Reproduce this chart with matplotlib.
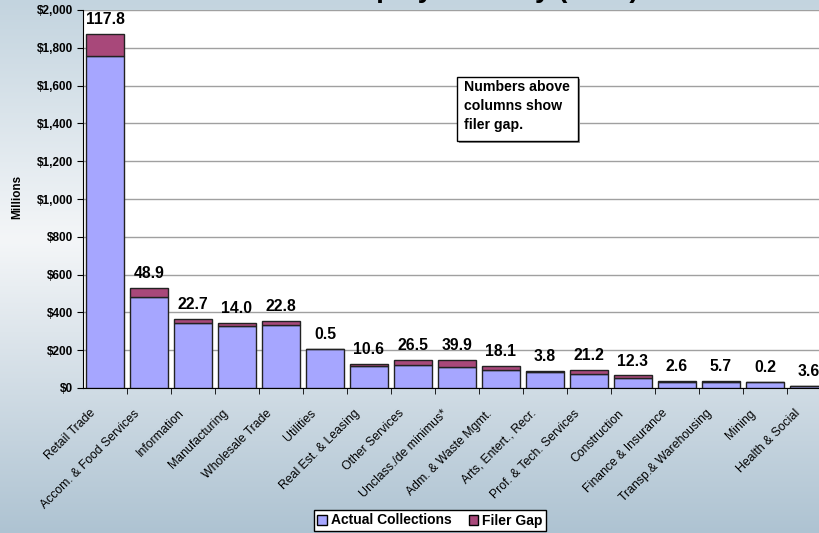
import matplotlib.pyplot as plt
import numpy as np
from matplotlib.patches import Patch, Rectangle
from matplotlib.ticker import FuncFormatter
from matplotlib.transforms import ScaledTranslation

plt.rcParams['font.family'] = ['Liberation Sans', 'DejaVu Sans']

# data (millions of dollars)
industries = [
    "Retail Trade", "Accom. & Food Services", "Information", "Manufacturing",
    "Wholesale Trade", "Utilities", "Real Est. & Leasing", "Other Services",
    "Unclass./de minimus*", "Adm. & Waste Mgmt.", "Arts, Entert., Recr.",
    "Prof. & Tech. Services", "Construction", "Finance & Insurance",
    "Transp.& Warehousing", "Mining", "Health & Social",
]
actual = [1755, 481, 343, 329, 331, 208, 119, 120, 110, 97, 85, 73, 54, 34, 31, 30, 9]
filer_gap = [117.8, 48.9, 22.7, 14.0, 22.8, 0.5, 10.6, 26.5, 39.9, 18.1, 3.8,
             21.2, 12.3, 2.6, 5.7, 0.2, 3.6]

W, H = 820, 533
fig = plt.figure(figsize=(W / 100, H / 100), dpi=100)

# background gradient
bg = fig.add_axes([0, 0, 1, 1], zorder=-10)
t = np.linspace(0, 1, H)
stops = [0, 0.45, 1]
cols = np.array([[0xc3, 0xd4, 0xdf], [0xf4, 0xf6, 0xf8], [0xae, 0xc3, 0xd2]]) / 255
grad = np.stack([np.interp(t, stops, cols[:, c]) for c in range(3)], axis=-1)
bg.imshow(grad[:, None, :], aspect='auto', extent=[0, 1, 0, 1])
bg.axis('off')

# main axes (plot area runs past the right edge, as in the original)
ax = fig.add_axes([83 / W, 1 - 388 / H, 748 / W, 378 / H])
ax.set_facecolor('white')
x = np.arange(len(industries))
ax.bar(x, actual, width=0.85, color='#a6a6ff', edgecolor='#222222', linewidth=1, zorder=3)
ax.bar(x, filer_gap, bottom=actual, width=0.85, color='#a8487a',
       edgecolor='#222222', linewidth=1, zorder=3)

ax.set_xlim(-0.5, len(industries) - 0.5)
ax.set_ylim(0, 2000)
ax.set_yticks(range(0, 2001, 200))
ax.yaxis.set_major_formatter(FuncFormatter(lambda v, p: f"${v:,.0f}"))
ax.yaxis.grid(True, color='#a0a0a0', linewidth=1)
ax.set_axisbelow(True)
for s in ['top', 'right']:
    ax.spines[s].set_visible(False)
ax.spines['left'].set_color('black')
ax.spines['bottom'].set_color('black')
ax.tick_params(axis='y', labelsize=8.5, length=4, pad=3)
for lab in ax.get_yticklabels():
    lab.set_fontweight('bold')

ax.set_xticks(x)
ax.set_xticklabels(industries, rotation=45, ha='right', va='center',
                   rotation_mode='anchor', fontsize=8.8)
ax.tick_params(axis='x', length=0, pad=17)
shift = ScaledTranslation(-11 / 100, 0, fig.dpi_scale_trans)
for lab in ax.get_xticklabels():
    lab.set_transform(lab.get_transform() + shift)
ax.set_xticks(x[:-1] + 0.5, minor=True)
ax.tick_params(axis='x', which='minor', length=4, color='black')

for i in range(len(industries)):
    ax.annotate(f"{filer_gap[i]:.1f}", (x[i], actual[i] + filer_gap[i]),
                xytext=(0, 5), textcoords='offset points', ha='center', va='bottom',
                fontsize=11.3, fontweight='bold', annotation_clip=False)

# title, mostly cut off at the top of the image
fig.text(639 / W, 1 + 3 / H, "Filer Gap by Industry (2005)", ha='right', va='baseline',
         fontsize=20, fontweight='bold')

fig.text(17 / W, 1 - 197 / H, "Millions", rotation=90, ha='center', va='center',
         fontsize=8.5, fontweight='bold')

# note box
fig.patches.append(Rectangle((459 / W, 1 - 143 / H), 121 / W, 64 / H, fc='#909090',
                             ec='none', transform=fig.transFigure, zorder=4))
fig.patches.append(Rectangle((457 / W, 1 - 141 / H), 121 / W, 64 / H, fc='white',
                             ec='black', lw=1, transform=fig.transFigure, zorder=5))
fig.text(464 / W, 1 - 80 / H, "Numbers above\ncolumns show\nfiler gap.", ha='left', va='top',
         fontsize=10.2, fontweight='bold', linespacing=1.45, zorder=6)

# legend
handles = [Patch(fc='#a6a6ff', ec='black'), Patch(fc='#a8487a', ec='black')]
leg = fig.legend(handles, ["Actual Collections", "Filer Gap"], loc='center',
                 bbox_to_anchor=(430 / W, 1 - 520.5 / H), ncol=2, frameon=True,
                 fancybox=False, edgecolor='black', framealpha=1,
                 handlelength=0.7, handleheight=0.7, handletextpad=0.3,
                 columnspacing=1.2, borderpad=0.25,
                 prop={'weight': 'bold', 'size': 10})
leg.get_frame().set_linewidth(1)

fig.savefig('out.png', dpi=100)
